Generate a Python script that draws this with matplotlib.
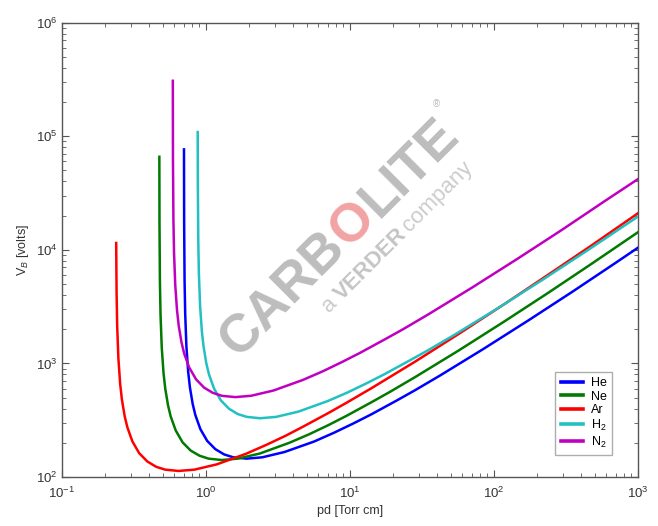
import numpy as np
import matplotlib
matplotlib.use("Agg")
import matplotlib.pyplot as plt

plt.rcParams['font.family'] = ['Liberation Sans', 'DejaVu Sans']
plt.rcParams['mathtext.fontset'] = 'custom'
plt.rcParams['mathtext.rm'] = 'Liberation Sans'
plt.rcParams['mathtext.it'] = 'Liberation Sans:italic'
plt.rcParams['axes.unicode_minus'] = False

# Breakdown voltage V_B [volts] against pd [Torr cm]
he_pd = [0.7035, 0.7051, 0.7100, 0.7171, 0.7311, 0.7522, 0.7733, 0.8085, 0.8436, 0.9139, 1.019,
         1.160, 1.336, 1.547, 1.912, 2.461, 3.515, 5.624, 7.733, 10.55, 14.06, 21.09, 28.12,
         42.18, 84.36, 175.8, 351.5, 703, 1000]
he_v = [76700, 17900, 5420, 2750, 1410, 844, 616, 439, 351, 264, 208,
        176, 158, 149, 145, 149, 166, 205, 245, 296, 356, 471, 578,
        782, 1340, 2420, 4290, 7720, 10450]

ne_pd = [0.4744, 0.4754, 0.4787, 0.4835, 0.4930, 0.5072, 0.5214, 0.5451, 0.5688, 0.6162, 0.6873,
         0.7821, 0.9006, 1.043, 1.289, 1.659, 2.37, 3.792, 5.214, 7.11, 9.48, 14.22, 18.96,
         28.44, 56.88, 118.5, 237, 474, 1000]
ne_v = [66000, 17400, 5270, 2670, 1380, 820, 599, 427, 341, 257, 202,
        171, 154, 145, 141, 145, 161, 200, 238, 287, 346, 458, 562,
        760, 1300, 2350, 4170, 7510, 14300]

ar_pd = [0.2379, 0.2394, 0.2417, 0.2465, 0.2536, 0.2607, 0.2726, 0.2844, 0.3081, 0.3437,
         0.3911, 0.4503, 0.5214, 0.6446, 0.8295, 1.185, 1.896, 2.607, 3.555, 4.74, 7.11, 9.48,
         14.22, 28.44, 59.25, 118.5, 237, 474, 1000]
ar_v = [11500, 4220, 2140, 1100, 657, 480, 342, 274, 206, 162,
        137, 123, 116, 113, 116, 129, 160, 191, 230, 278, 367, 451,
        609, 1040, 1880, 3340, 6020, 10900, 21000]

h2_pd = [0.876, 0.8776, 0.8838, 0.8925, 0.910, 0.9363, 0.9625, 1.006, 1.050, 1.138, 1.269,
         1.444, 1.663, 1.925, 2.38, 3.063, 4.375, 7.0, 9.625, 13.13, 17.5, 26.25, 35.0,
         52.5, 105, 218.8, 437.5, 1000]
h2_v = [109000, 40500, 12300, 6230, 3210, 1910, 1400, 996, 797, 600, 472,
        399, 358, 338, 329, 338, 376, 466, 555, 671, 808, 1070, 1310,
        1770, 3030, 5480, 9740, 19650]

n2_pd = [0.5884, 0.5898, 0.5939, 0.5998, 0.6115, 0.6292, 0.6468, 0.6762, 0.7056, 0.7644, 0.8526,
         0.9702, 1.117, 1.294, 1.599, 2.058, 2.94, 4.704, 6.468, 8.82, 11.76, 17.64, 23.52,
         35.28, 70.56, 147, 294, 588, 1000]
n2_v = [308000, 62200, 18900, 9570, 4930, 2940, 2140, 1530, 1220, 921, 725,
        612, 550, 518, 505, 519, 577, 715, 852, 1030, 1240, 1640, 2010,
        2720, 4660, 8410, 14900, 26900, 42000]

gas_labels = ['He', 'Ne', 'Ar', 'H$_2$', 'N$_2$']
gas_colors = ['#0000ff', '#007a00', '#ff0000', '#22c0c0', '#c000c0']

fig = plt.figure(figsize=(6.58, 5.26), dpi=100)
ax = fig.add_axes([0.0942, 0.0932, 0.8754, 0.8636])

series = [(he_pd, he_v), (ne_pd, ne_v), (ar_pd, ar_v), (h2_pd, h2_v), (n2_pd, n2_v)]
for (pd_vals, v_vals), lab, col in zip(series, gas_labels, gas_colors):
    ax.plot(pd_vals, v_vals, color=col, lw=1.8, label=lab, zorder=3)

ax.set_xscale('log')
ax.set_yscale('log')
ax.set_xlim(0.1, 1000)
ax.set_ylim(100, 1e6)

axis_col = '#555555'
for sp in ax.spines.values():
    sp.set_color(axis_col)
    sp.set_linewidth(1.0)
ax.tick_params(which='both', direction='in', top=True, right=True,
               colors=axis_col, labelcolor='#333333', labelsize=9.5)
ax.tick_params(which='major', length=5)
ax.tick_params(which='minor', length=3)
ax.tick_params(axis='x', which='major', pad=6)
ax.tick_params(axis='y', which='major', pad=3)

ax.set_xlabel('pd [Torr cm]', fontsize=9, color='#333333', labelpad=3)
ax.set_ylabel('V$_B$ [volts]', fontsize=9, color='#333333', labelpad=4)

leg = ax.legend(loc='lower right', bbox_to_anchor=(0.955, 0.048), borderaxespad=0,
                fontsize=9, frameon=True, fancybox=False, handlelength=1.8,
                handletextpad=0.6, labelspacing=0.12, borderpad=0.45, edgecolor='#999999')
leg.get_frame().set_linewidth(1.0)
for ln in leg.get_lines():
    ln.set_linewidth(2.6)

# watermark, drawn piece by piece along a rotated baseline
angle = 45
fig.canvas.draw()
renderer = fig.canvas.get_renderer()
W, H = fig.bbox.width, fig.bbox.height
ca, sa = np.cos(np.radians(angle)), np.sin(np.radians(angle))


def place_pieces(start, pieces):
    x0, y0 = start[0] * W, start[1] * H
    pos = 0.0
    for s, gap, kw in pieces:
        pos += gap
        t = fig.text(0, 0, s, ha='left', va='baseline', zorder=1, **kw)
        w = t.get_window_extent(renderer).width
        t.set_rotation(angle)
        t.set_rotation_mode('anchor')
        t.set_position(((x0 + pos * ca) / W, (y0 + pos * sa) / H))
        pos += w


grey = '#bdbdbd'
place_pieces((0.362, 0.318), [
    ('CARB', 0, dict(fontsize=38.5, fontweight='bold', color=grey, family='Liberation Sans')),
    ('O', 1, dict(fontsize=38.5, fontweight='bold', color='#f2a3a3', family='Liberation Sans')),
    ('LITE', 1, dict(fontsize=38.5, fontweight='bold', color=grey, family='Liberation Sans')),
])
place_pieces((0.500, 0.404), [
    ('a', 0, dict(fontsize=16, color='#cccccc', family='Liberation Sans')),
    ('VERDER', 5, dict(fontsize=16, fontweight='bold', color='#c4c4c4', family='Liberation Sans')),
    ('company', 4, dict(fontsize=16, color='#cccccc', family='Liberation Sans')),
])
fig.text(0.664, 0.802, '®', fontsize=7, color='#bbbbbb', ha='center', va='center')

fig.savefig('out.png', dpi=100)
